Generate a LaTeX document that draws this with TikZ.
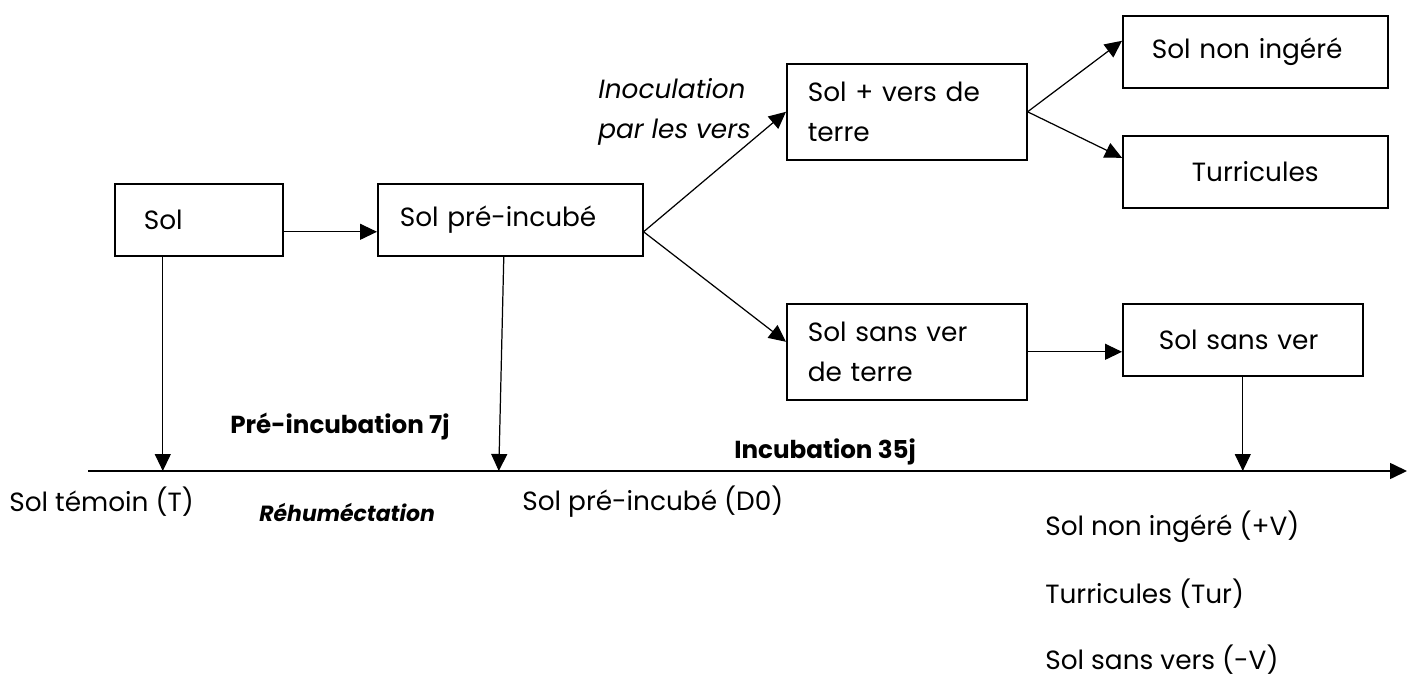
\documentclass[tikz,border=0pt]{standalone}
\usepackage{fontspec}
\setmainfont{Poppins}
\usetikzlibrary{arrows.meta}
\newcommand{\taille}{\fontsize{15}{22.5}\selectfont}

\begin{document}
\begin{tikzpicture}
    \tikzstyle{box} = [draw, line width=0.9pt, anchor=north west, align=left, inner ysep=0pt, font=\taille]
    \tikzstyle{arr} = [line width=0.7pt, -{Triangle[length=0.34cm, width=0.32cm]}]
    \tikzstyle{txt} = [anchor=west, inner sep=0pt, font=\taille]
    \useasboundingbox (0,0) rectangle (28.14,-13.54);
    % boites
    \node[box, minimum height=1.44cm, text width=2.2cm, inner xsep=0.58cm] (sol) at (2.28,-3.66) {Sol};
    \node[box, minimum height=1.44cm, text width=4.42cm, inner xsep=0.44cm] (pre) at (7.54,-3.66) {Sol pré-incubé};
    \node[box, minimum height=1.92cm, text width=3.96cm, inner xsep=0.42cm] (vers) at (15.72,-1.26) {Sol + vers de\\terre};
    \node[box, minimum height=1.44cm, text width=4.14cm, inner xsep=0.58cm] (noning) at (22.44,-0.30) {Sol non ingéré};
    \node[box, minimum height=1.44cm, text width=4.14cm, inner xsep=0.58cm, align=center] (turr) at (22.44,-2.70) {Turricules};
    \node[box, minimum height=1.92cm, text width=3.96cm, inner xsep=0.42cm] (sansterre) at (15.72,-6.06) {Sol sans ver\\de terre};
    \node[box, minimum height=1.44cm, text width=3.36cm, inner xsep=0.72cm] (sansver) at (22.44,-6.06) {Sol sans ver};
    % axe du temps
    \coordinate (axL) at (1.76,-9.42);
    \coordinate (axR) at (28.14,-9.42);
    \draw[arr, line width=0.9pt] (axL) -- (axR);
    % fleches
    \draw[arr] ([yshift=-0.24cm]sol.east) -- ([yshift=-0.24cm]pre.west);
    \draw[arr] ([yshift=-0.24cm]pre.east) -- (vers.west);
    \draw[arr] ([yshift=-0.24cm]pre.east) -- ([yshift=0.2cm]sansterre.west);
    \draw[arr] (vers.east) -- ([yshift=0.22cm]noning.west);
    \draw[arr] (vers.east) -- ([yshift=0.28cm]turr.west);
    \draw[arr] (sansterre.east) -- (sansterre.east -| sansver.west);
    \draw[arr] ([xshift=-0.72cm]sol.south) -- ([xshift=-0.72cm]sol.south |- axL);
    \draw[arr] ([xshift=-0.13cm]pre.south) -- ([xshift=-0.23cm]pre.south |- axL);
    \draw[arr] (sansver.south) -- (sansver.south |- axL);
    % textes
    \node[txt, align=left, font=\taille\itshape] (inoc) at (11.96,-2.24) {Inoculation\\par les vers};
    \node[txt, font=\fontsize{14}{17}\selectfont\bfseries] (preinc) at (4.60,-8.54) {Pré-incubation 7j};
    \node[txt, font=\fontsize{14}{17}\selectfont\bfseries] (incub) at (14.68,-9.04) {Incubation 35j};
    \node[txt, font=\fontsize{12.5}{15}\selectfont\bfseries\itshape] (rehum) at (5.18,-10.24) {Réhuméctation};
    \node[txt] (temoin) at (0.18,-10.04) {Sol témoin (T)};
    \node[txt] (dzero) at (10.44,-10.04) {Sol pré-incubé (D0)};
    \foreach \t [count=\i] in {Sol non ingéré (+V), Turricules (Tur), Sol sans vers (-V)}
        \node[txt] (res\i) at (20.90,-10.54-1.33*\i+1.33) {\t};
\end{tikzpicture}
\end{document}
